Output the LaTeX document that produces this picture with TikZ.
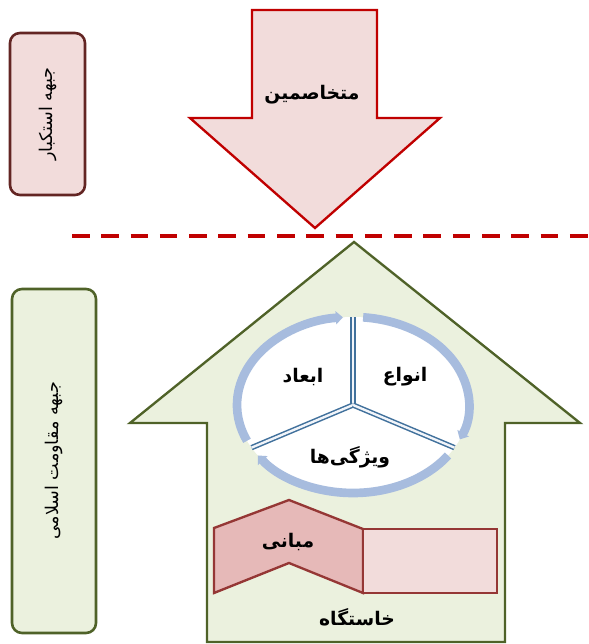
\documentclass[tikz,border=0pt]{standalone}
\usepackage{fontspec}
\newfontfamily\arabicfont[Script=Arabic]{DejaVu Sans}
\TeXXeTstate=1
\usetikzlibrary{arrows.meta}

\definecolor{foered}{RGB}{192,0,0}
\definecolor{foefill}{RGB}{242,220,219}
\definecolor{foebox}{RGB}{99,37,35}
\definecolor{homegreen}{RGB}{79,98,40}
\definecolor{homefill}{RGB}{235,241,222}
\definecolor{ringblue}{RGB}{167,188,222}
\definecolor{spokeblue}{RGB}{65,113,156}
\definecolor{basered}{RGB}{149,55,53}
\definecolor{basefill}{RGB}{230,185,184}

\begin{document}
\begin{tikzpicture}[x=0.03cm,y=0.03cm]
		\tikzset{label/.style = {font=\arabicfont\bfseries\fontsize{16}{18}\selectfont, inner sep=1pt}}
		\tikzset{sidebox/.style = {rounded corners=0.3cm, line width=2.2pt, rotate=90, font=\arabicfont\fontsize{15}{17}\selectfont}}
		\tikzset{ring/.style = {ringblue, line width=0.26cm, -{Triangle[length=6pt,width=11pt]}}}
		\tikzset{spoke/.style = {spokeblue, line width=1.3pt, double=white!85!ringblue, double distance=2pt}}
		
		\useasboundingbox (0,0) rectangle (589,644);
		
		\draw[foered, fill=foefill, line width=2pt] (252,634) -- (377,634) -- (377,526) -- (440,526) -- (315,416) -- (190,526) -- (252,526) -- cycle;
		\draw[foered, line width=3.4pt, dash pattern=on 15pt off 10pt] (72,408) -- (589,408);
		\draw[homegreen, fill=homefill, line width=2pt] (354,402) -- (580,221) -- (505,221) -- (505,2) -- (207,2) -- (207,221) -- (130,221) -- cycle;
		
		\node[sidebox, draw=foebox, fill=foefill, minimum width=4.86cm, minimum height=2.25cm] (foe) at (47.5,530) {\beginR جبهه استکبار\endR};
		\node[sidebox, draw=homegreen, fill=homefill, minimum width=10.32cm, minimum height=2.52cm] (home) at (54,183) {\beginR جبهه مقاومت اسلامی\endR};
		
		\node[label] (enemy) at (312,549) {\beginR متخاصمین\endR};
		
		\coordinate (ctr) at (353,239);
		\fill[white] (ctr) ellipse [x radius=116, y radius=88];
		\draw[ring] (ctr) ++(204:116 and 88) arc[start angle=204, end angle=95, x radius=116, y radius=88];
		\draw[ring] (ctr) ++(85:116 and 88) arc[start angle=85, end angle=-23, x radius=116, y radius=88];
		\draw[ring] (ctr) ++(-35:116 and 88) arc[start angle=-35, end angle=-145, x radius=116, y radius=88];
		
		\path (ctr) ++(90:116 and 88) coordinate (s1);
		\path (ctr) ++(209:116 and 88) coordinate (s2);
		\path (ctr) ++(331:116 and 88) coordinate (s3);
		\draw[spoke] (ctr) to (s1);
		\draw[spoke] (ctr) to (s2);
		\draw[spoke] (ctr) to (s3);
		
		\node[label] (dims)  at (303,267) {\beginR ابعاد\endR};
		\node[label] (kinds) at (405,267) {\beginR انواع\endR};
		\node[label] (props) at (350,187) {\beginR ویژگی‌ها\endR};
		
		\draw[basered, fill=basefill, line width=2pt] (214,116) -- (289,144) -- (363,115) -- (363,51) -- (289,81) -- (214,51) -- cycle;
		\draw[basered, fill=foefill, line width=2pt] (363,115) rectangle (497,51);
		
		\node[label] (base)   at (288,102) {\beginR مبانی\endR};
		\node[label] (origin) at (357,27) {\beginR خاستگاه\endR};
\end{tikzpicture}
\end{document}
